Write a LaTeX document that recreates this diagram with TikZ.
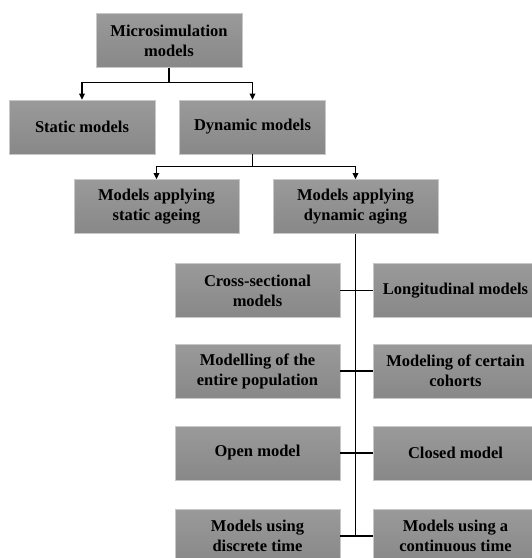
\documentclass[tikz,border=0pt]{standalone}
\usepackage{fontspec}
\setmainfont{Liberation Serif}
\usepackage{xcolor}
\usetikzlibrary{arrows.meta,positioning}
\definecolor{boxtop}{HTML}{9A9A9A}
\definecolor{boxbot}{HTML}{888888}
\definecolor{boxedge}{HTML}{C8C8C8}

\begin{document}
\begin{tikzpicture}[x=1pt,y=-1pt,
  font=\fontsize{16.5}{20}\selectfont\bfseries,
  mbox/.style={draw=boxedge,top color=boxtop,bottom color=boxbot,align=center,inner sep=2pt,
    minimum height=54pt,minimum width=146pt},
  wbox/.style={mbox,minimum width=165pt},
  tree/.style={black,line width=1.2pt},
  treear/.style={tree,-{Triangle[length=2.2mm,width=2mm]}}]
\clip (0,0) rectangle (532,558);
\useasboundingbox (0,0) rectangle (532,558);
\node[mbox](ms) at (169,40.5){Microsimulation\\models};
\node[mbox](st) at (82,127){Static models};
\node[mbox](dy) at (252.5,127){Dynamic models};
\node[wbox](sa) at (156.5,206.5){Models applying\\static ageing};
\node[wbox](da) at (355.5,206.5){Models applying\\dynamic aging};
\node[wbox](l1) at (257.5,290.5){Cross-sectional\\models};
\node[wbox](r1) at (455.5,290.5){Longitudinal models};
\node[wbox](l2) at (257.5,371){Modelling of the\\entire population};
\node[wbox](r2) at (455.5,371){Modeling of certain\\cohorts};
\node[wbox](l3) at (257.5,453){Open model};
\node[wbox](r3) at (455.5,453){Closed model};
\node[wbox](l4) at (257.5,536){Models using\\discrete time};
\node[wbox](r4) at (455.5,536){Models using a\\continuous time};
% first split
\draw[tree](ms.south)--++(0,15)coordinate(s1);
\draw[treear](s1)-|(st.north);
\draw[treear](s1)-|(dy.north);
% second split
\draw[tree](dy.south)--++(0,12)coordinate(s2);
\draw[treear](s2)-|(sa.north);
\draw[treear](s2)-|(da.north);
% trunk and pairs
\draw[tree](da.south)--(da.south|-l4.east);
\foreach \i in {1,...,4}
  \draw[tree](l\i.east)--(r\i.west);
\end{tikzpicture}
\end{document}
